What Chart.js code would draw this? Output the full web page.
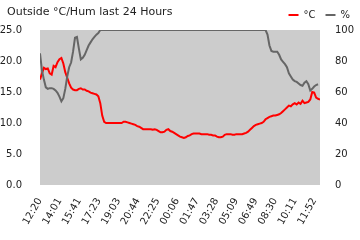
<!DOCTYPE html>
<html>
<head>
<meta charset="utf-8">
<script src="https://cdn.jsdelivr.net/npm/chart.js@4"></script>
<style>
  html, body { margin: 0; padding: 0; background: #fff; }
</style>
</head>
<body>
<canvas id="grafico" width="360" height="240"></canvas>
<script>
const titulo = 'Outside °C/Hum last 24 Hours';

// one sample every 10 minutes, starting at 12:20
const passo = 10;
const rotulos = ['12:20', '14:01', '15:41', '17:23', '19:03', '20:44', '22:25', '00:06',
                 '01:47', '03:28', '05:09', '06:49', '08:30', '10:11', '11:52'];

const temperatura = [
  17.0, 18.0, 18.9, 18.7, 18.8, 18.0, 17.8, 19.2, 19.0, 19.8,
  20.3, 20.5, 19.6, 18.2, 17.3, 16.4, 15.7, 15.4, 15.3, 15.3,
  15.5, 15.6, 15.4, 15.4, 15.2, 15.1, 14.9, 14.8, 14.7, 14.6,
  14.3, 13.2, 11.2, 10.2, 10.0, 10.0, 10.0, 10.0, 10.0, 10.0,
  10.0, 10.0, 10.0, 10.2, 10.2, 10.1, 10.0, 9.9, 9.8, 9.7,
  9.5, 9.4, 9.2, 9.0, 9.0, 9.0, 9.0, 9.0, 8.9, 9.0,
  8.9, 8.7, 8.5, 8.5, 8.6, 8.9, 9.0, 8.7, 8.6, 8.4,
  8.2, 8.0, 7.8, 7.7, 7.6, 7.7, 7.9, 8.0, 8.2, 8.3,
  8.3, 8.3, 8.3, 8.2, 8.2, 8.2, 8.2, 8.1, 8.1, 8.0,
  8.0, 7.8, 7.7, 7.7, 7.8, 8.1, 8.2, 8.2, 8.2, 8.1,
  8.1, 8.2, 8.2, 8.2, 8.2, 8.3, 8.4, 8.6, 8.9, 9.2,
  9.5, 9.7, 9.8, 9.9, 10.0, 10.2, 10.6, 10.8, 11.0, 11.1,
  11.2, 11.2, 11.3, 11.4, 11.6, 11.9, 12.2, 12.5, 12.8, 12.7,
  13.0, 13.2, 13.0, 13.3, 13.1, 13.6, 13.2, 13.3, 13.4, 13.8,
  15.0, 14.9, 14.1, 13.9, 13.8
];

const umidade = [
  85, 74, 68, 63, 62, 62.5, 62.5, 62, 61, 59.5,
  57, 54, 56, 62, 70, 76, 79, 86, 95, 95.5,
  88, 81, 82, 84, 87, 90, 92, 94, 95.5, 97,
  98, 100, 100, 100, 100, 100, 100, 100, 100, 100,
  100, 100, 100, 100, 100, 100, 100, 100, 100, 100,
  100, 100, 100, 100, 100, 100, 100, 100, 100, 100,
  100, 100, 100, 100, 100, 100, 100, 100, 100, 100,
  100, 100, 100, 100, 100, 100, 100, 100, 100, 100,
  100, 100, 100, 100, 100, 100, 100, 100, 100, 100,
  100, 100, 100, 100, 100, 100, 100, 100, 100, 100,
  100, 100, 100, 100, 100, 100, 100, 100, 100, 100,
  100, 100, 100, 100, 100, 100, 100, 97, 90, 86.5,
  86, 86, 86, 84, 81, 79.5, 78, 76, 72, 70,
  68, 67, 66.5, 65.5, 64.5, 64, 66, 67, 65, 61,
  62, 63.5, 64.5, 65
];

// minutes after 12:20 for each tick label
const minutosRotulos = rotulos.map(r => {
    const [h, m] = r.split(':').map(Number);
    return ((h * 60 + m) - (12 * 60 + 20) + 1440) % 1440;
});

const pontosTemp = temperatura.map((v, i) => ({ x: i * passo, y: v }));
const pontosUmid = umidade.map((v, i) => ({ x: i * passo, y: v }));

const fundo = {
    id: 'fundo',
    beforeDatasetsDraw(chart) {
        const a = chart.chartArea;
        const ctx = chart.ctx;
        ctx.save();
        ctx.fillStyle = '#cccccc';
        ctx.fillRect(a.left, a.top, a.right - a.left, a.bottom - a.top);
        ctx.restore();
    },
    // title sits on the same row as the legend
    afterDraw(chart) {
        const ctx = chart.ctx;
        ctx.save();
        ctx.font = '11px "DejaVu Sans"';
        ctx.fillStyle = '#222';
        ctx.textBaseline = 'alphabetic';
        ctx.fillText(titulo, 7, 15);
        ctx.restore();
    }
};

Chart.defaults.font.family = 'DejaVu Sans';
Chart.defaults.color = '#222';

var u = document.getElementById('grafico').getContext('2d');
var char = new Chart(u, {
    type: 'line',
    data: {
        datasets: [{
            label: '°C',
            data: pontosTemp,
            borderColor: '#ff0000',
            backgroundColor: '#ff0000',
            borderWidth: 2,
            pointRadius: 0,
            pointStyle: 'line',
            tension: 0,
            yAxisID: 'y',
            order: 1
        }, {
            label: '%',
            data: pontosUmid,
            borderColor: '#666666',
            backgroundColor: '#666666',
            borderWidth: 2,
            pointRadius: 0,
            pointStyle: 'line',
            tension: 0,
            yAxisID: 'y1',
            order: 0
        }]
    },
    options: {
        responsive: false,
        animation: false,
        layout: { padding: 0 },
        plugins: {
            legend: {
                position: 'top',
                align: 'end',
                labels: {
                    usePointStyle: true,
                    pointStyleWidth: 10,
                    boxHeight: 10,
                    padding: 10,
                    font: { size: 10 },
                    sort: (a, b) => a.datasetIndex - b.datasetIndex
                }
            },
            tooltip: { enabled: false }
        },
        scales: {
            x: {
                type: 'linear',
                min: 0,
                max: 1440,
                afterBuildTicks: axis => {
                    axis.ticks = minutosRotulos.map(v => ({ value: v }));
                },
                afterFit: axis => { axis.height = 55; },
                ticks: {
                    autoSkip: false,
                    minRotation: 60,
                    maxRotation: 60,
                    font: { size: 10 },
                    callback: v => rotulos[minutosRotulos.indexOf(v)]
                },
                grid: { display: false },
                border: { display: false }
            },
            y: {
                position: 'left',
                min: 0,
                max: 25,
                afterFit: axis => { axis.width = 40; },
                ticks: {
                    stepSize: 5,
                    font: { size: 10 },
                    padding: 10,
                    callback: v => v.toFixed(1)
                },
                grid: { display: false },
                border: { display: false }
            },
            y1: {
                position: 'right',
                min: 0,
                max: 100,
                afterFit: axis => { axis.width = 40; },
                ticks: {
                    stepSize: 20,
                    font: { size: 10 },
                    padding: 7
                },
                grid: { display: false },
                border: { display: false }
            }
        }
    },
    plugins: [fundo]
});
</script>
</body>
</html>
